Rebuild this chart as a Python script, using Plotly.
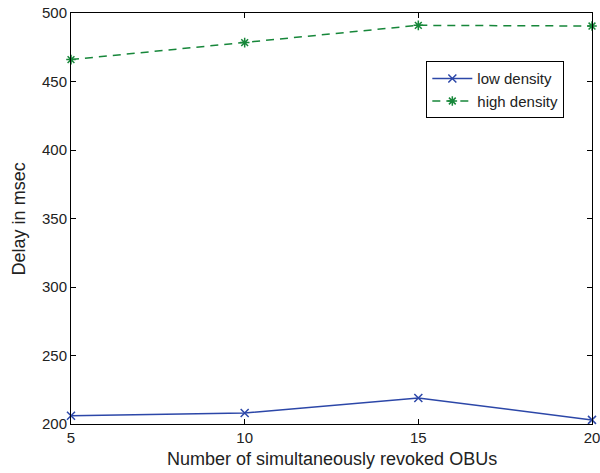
import plotly.graph_objects as go

x_vals = [5, 10, 15, 20]
low_density = [206, 208, 219, 203]
high_density = [466, 478.4, 491, 490.5]
x_ticks = [5, 10, 15, 20]
y_ticks = [200, 250, 300, 350, 400, 450, 500]

blue = "#2c47a8"
green = "#17873a"
font_family = "Liberation Sans, Arial, Helvetica, sans-serif"

fig = go.Figure()
fig.add_trace(go.Scatter(
    x=x_vals, y=low_density, mode="lines+markers", name="low density",
    line=dict(color=blue, width=1.5),
    marker=dict(symbol="x-thin-open", size=8, line=dict(color=blue, width=1.5)),
    cliponaxis=False,
))
fig.add_trace(go.Scatter(
    x=x_vals, y=high_density, mode="lines+markers", name="high density",
    line=dict(color=green, width=1.5, dash="8px,6px"),
    marker=dict(symbol="asterisk-open", size=8, line=dict(color=green, width=1.5)),
    cliponaxis=False,
))

axis_common = dict(
    showgrid=False, zeroline=False, showline=True, linecolor="black", linewidth=1,
    mirror="ticks", ticks="inside", ticklen=5, tickcolor="black",
    tickfont=dict(size=15, color="#222"), automargin=False,
    ticklabeloverflow="allow",
)
fig.update_xaxes(range=[5, 20], tickvals=x_ticks, **axis_common)
fig.update_yaxes(range=[200, 500], tickvals=y_ticks, **axis_common)

fig.add_annotation(text="Number of simultaneously revoked OBUs", xref="paper", yref="paper",
                   x=0.5, y=-0.085, xanchor="center", yanchor="middle", showarrow=False,
                   font=dict(size=18, color="#222"))
fig.add_annotation(text="Delay in msec", xref="paper", yref="paper",
                   x=-0.1, y=0.5, xanchor="center", yanchor="middle", showarrow=False,
                   textangle=-90, font=dict(size=18, color="#222"))

fig.update_layout(
    width=600, height=473,
    margin=dict(l=70.5, r=8, t=12.7, b=49),
    paper_bgcolor="white", plot_bgcolor="white",
    font=dict(family=font_family, color="#222"),
    legend=dict(x=0.682, y=0.8826, xanchor="left", yanchor="top",
                bgcolor="white", bordercolor="black", borderwidth=1,
                font=dict(size=15, color="#222"), tracegroupgap=0,
                itemwidth=40),
    showlegend=True,
)

fig.write_html("out.html",
               config={"displayModeBar": False},
               post_script="document.body.style.margin='0';document.body.style.overflow='hidden';")
